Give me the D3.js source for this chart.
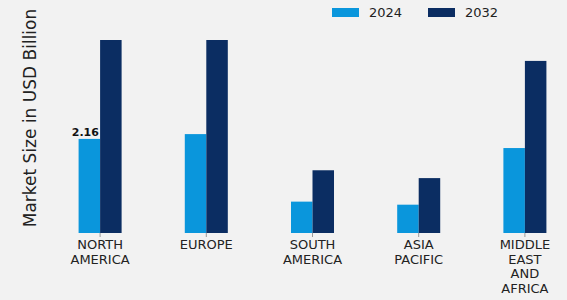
<!DOCTYPE html>
<html>
<head>
<meta charset="utf-8">
<script src="https://cdn.jsdelivr.net/npm/d3@7/dist/d3.min.js"></script>
<style>
  html, body { margin: 0; padding: 0; background: #f2f2f2; }
  svg { display: block; font-family: "DejaVu Sans", sans-serif; }
</style>
</head>
<body>
<div id="chart"></div>
<script>
const regions = ['NORTH AMERICA', 'EUROPE', 'SOUTH AMERICA', 'ASIA PACIFIC', 'MIDDLE EAST AND AFRICA'];
const regionLines = [['NORTH', 'AMERICA'], ['EUROPE'], ['SOUTH', 'AMERICA'], ['ASIA', 'PACIFIC'], ['MIDDLE', 'EAST', 'AND', 'AFRICA']];
const years = ['2024', '2032'];
const values2024 = [2.16, 2.27, 0.72, 0.65, 1.95];
const values2032 = [4.43, 4.43, 1.44, 1.26, 3.95];
const labelled = [{ region: 'NORTH AMERICA', value: 2.16 }];

const COLORS = { '2024': '#0a96dc', '2032': '#0b2d62' };

const W = 567, H = 300;
const baseY = 233;

const svg = d3.select('#chart').append('svg')
  .attr('width', W).attr('height', H);

svg.append('rect').attr('width', W).attr('height', H).attr('fill', '#f2f2f2');

const x0 = d3.scaleBand()
  .domain(regions)
  .range([47, 578])
  .paddingInner(0.595)
  .paddingOuter(0.2975);

const x1 = d3.scaleBand()
  .domain(years)
  .range([0, x0.bandwidth()]);

const y = d3.scaleLinear()
  .domain([0, 4.43])
  .range([baseY, 40]);

const rows = regions.map((r, i) => ({ region: r, '2024': values2024[i], '2032': values2032[i] }));

const groups = svg.append('g').selectAll('g')
  .data(rows)
  .join('g')
  .attr('transform', d => `translate(${x0(d.region)},0)`);

groups.selectAll('rect')
  .data(d => years.map(k => ({ key: k, value: d[k] })))
  .join('rect')
  .attr('x', d => x1(d.key))
  .attr('y', d => y(d.value))
  .attr('width', x1.bandwidth())
  .attr('height', d => baseY - y(d.value))
  .attr('fill', d => COLORS[d.key]);

// x axis ticks
const axis = svg.append('g').attr('transform', `translate(0,${baseY})`)
  .call(d3.axisBottom(x0).tickSize(4).tickFormat(''));
axis.select('.domain').remove();
axis.selectAll('.tick line').attr('stroke', '#999').attr('stroke-width', 1);

// multi-line category labels
const labels = svg.append('g')
  .attr('font-size', 13)
  .attr('fill', '#222')
  .attr('text-anchor', 'middle');
regions.forEach((r, i) => {
  const t = labels.append('text')
    .attr('x', x0(r) + x0.bandwidth() / 2)
    .attr('y', baseY + 16);
  regionLines[i].forEach((line, j) => {
    t.append('tspan')
      .attr('x', x0(r) + x0.bandwidth() / 2)
      .attr('dy', j === 0 ? 0 : 14.7)
      .text(line);
  });
});

// value label
svg.append('g').selectAll('text')
  .data(labelled)
  .join('text')
  .attr('x', d => x0(d.region) + x1('2024') + x1.bandwidth() / 2 - 4)
  .attr('y', d => y(d.value) - 3)
  .attr('text-anchor', 'middle')
  .attr('font-size', 11)
  .attr('font-weight', 'bold')
  .attr('fill', '#111')
  .text(d => d.value.toFixed(2));

// y axis title
svg.append('text')
  .attr('transform', `translate(36,118) rotate(-90)`)
  .attr('text-anchor', 'middle')
  .attr('font-size', 17)
  .attr('fill', '#222')
  .text('Market Size in USD Billion');

// legend
const legend = svg.append('g').attr('font-size', 13).attr('fill', '#222');
const legendX = { '2024': 332, '2032': 428 };
years.forEach(k => {
  legend.append('rect')
    .attr('x', legendX[k]).attr('y', 8)
    .attr('width', 27).attr('height', 9)
    .attr('fill', COLORS[k]);
  legend.append('text')
    .attr('x', legendX[k] + 37).attr('y', 17)
    .text(k);
});
</script>
</body>
</html>
